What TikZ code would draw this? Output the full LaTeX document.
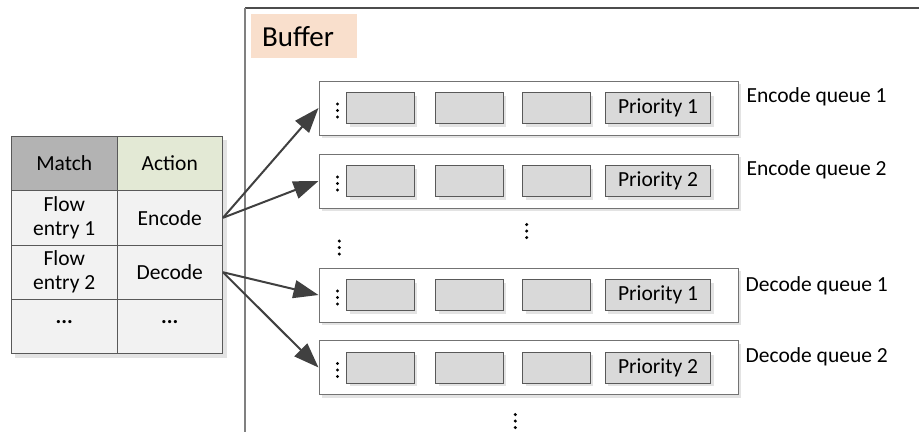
\documentclass[tikz,border=0pt]{standalone}
\usepackage{fontspec}
\setmainfont{Carlito}
\usetikzlibrary{shadows,arrows.meta}
\definecolor{edgec}{HTML}{595959}
\definecolor{hdrgray}{HTML}{B3B3B3}
\definecolor{hdrgreen}{HTML}{E3E9D5}
\definecolor{cellfill}{HTML}{F2F2F2}
\definecolor{slotfill}{HTML}{D9D9D9}
\definecolor{peach}{HTML}{F9DFCC}
\definecolor{arrowc}{HTML}{404040}
\definecolor{shadowc}{HTML}{E3E3E3}
\begin{document}
\begin{tikzpicture}[x=1pt,y=-1pt,
  font=\fontsize{21.5}{24}\selectfont,
  cell/.style={draw=edgec, line width=1pt, fill=cellfill, minimum width=105.5pt,
    minimum height=54.5pt, inner sep=0pt, align=center, anchor=north west},
  queue/.style={draw=gray!90!black, line width=1pt, fill=white, minimum width=419pt,
    minimum height=54pt, inner sep=0pt,
    drop shadow={shadow xshift=3pt, shadow yshift=-3pt, fill=shadowc, opacity=1}},
  slot/.style={draw=edgec, line width=1pt, fill=slotfill, minimum width=67.5pt,
    minimum height=31pt, inner sep=0pt,
    drop shadow={shadow xshift=3pt, shadow yshift=-3pt, fill=shadowc, opacity=1}},
  prio/.style={slot, minimum width=105.5pt},
  qlabel/.style={anchor=base west, inner sep=0pt},
  arr/.style={draw=arrowc, line width=2pt, -{Triangle[length=25pt,width=18pt]}},
  dotc/.style={fill=black},
]
\useasboundingbox (0,0) rectangle (919,432);

% buffer frame
\draw[line width=1.2pt, draw=black!70] (919,8) -- (245,8);
\draw[line width=1.2pt, draw=black!50] (245,8) -- (245,432);
\node[fill=peach, anchor=north west, minimum width=106pt, minimum height=44pt,
  inner xsep=11pt, inner ysep=0pt, text width=84pt, align=left,
  font=\fontsize{29}{32}\selectfont] (buf) at (251,14) {Buffer};

% table
\fill[shadowc] (15,140) rectangle (227,358);
\node[cell, fill=hdrgray, minimum height=54pt] (m) at (11,136) {Match};
\node[cell, fill=hdrgreen, minimum height=54pt] (a) at (116.5,136) {Action};
\node[cell] (f1) at (11,190) {Flow\\entry 1};
\node[cell] (e1) at (116.5,190) {Encode};
\node[cell] (f2) at (11,244.5) {Flow\\entry 2};
\node[cell] (d2) at (116.5,244.5) {Decode};
\node[cell, minimum height=54pt] (x1) at (11,299) {};
\node[cell, minimum height=54pt] (x2) at (116.5,299) {};
\node[font=\fontsize{21.5}{24}\bfseries] (x1t) at ([yshift=4pt]x1.center) {...};
\node[font=\fontsize{21.5}{24}\bfseries] (x2t) at ([yshift=4pt]x2.center) {...};

% queues
\foreach \n/\y/\p in {q1/108/1, q2/181/2, q3/295/1, q4/367.5/2}{
  \node[queue] (\n) at (528.5,\y) {};
  \node[slot] (\n a) at (380.3,\y) {};
  \node[slot] (\n b) at (469.5,\y) {};
  \node[slot] (\n c) at (556.3,\y) {};
  \node[prio] (\n d) at (658,\y) {Priority \p};
  \fill[dotc] (337.5,\y-4) circle (1.7pt) (337.5,\y+2.5) circle (1.7pt) (337.5,\y+9) circle (1.7pt);
}

% queue labels
\node[qlabel] (l1) at (746.5,102.5) {Encode queue 1};
\node[qlabel] (l2) at (746.5,175.5) {Encode queue 2};
\node[qlabel] (l3) at (745.5,291) {Decode queue 1};
\node[qlabel] (l4) at (745.5,362.5) {Decode queue 2};

% vertical dots between
\foreach \x/\y in {339.3/241, 526.7/224.5, 515.3/414.5}{
  \fill[dotc] (\x,\y) circle (1.7pt) (\x,\y+6.5) circle (1.7pt) (\x,\y+13) circle (1.7pt);
}

% arrows
\draw[arr] (e1.east) -- (q1.west);
\draw[arr] (e1.east) -- (q2.west);
\draw[arr] (d2.east) -- (q3.west);
\draw[arr] (d2.east) -- (q4.west);
\end{tikzpicture}
\end{document}
